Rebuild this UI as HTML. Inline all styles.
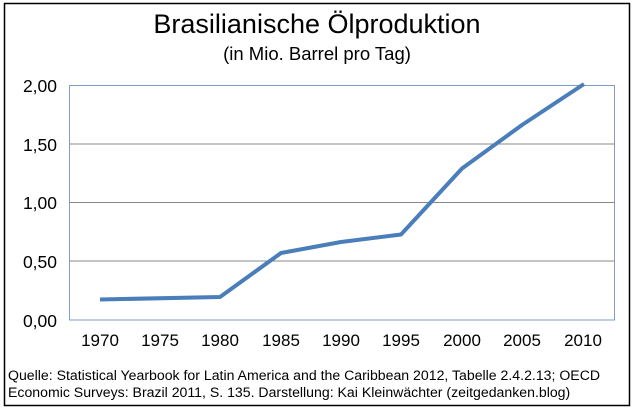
<!DOCTYPE html>
<html><head><meta charset="utf-8"><style>
html,body{margin:0;padding:0;background:#fff;}
</style></head><body>
<svg width="634" height="413" xmlns="http://www.w3.org/2000/svg" font-family="Liberation Sans, Arial, sans-serif">
<rect x="4.5" y="3.5" width="625" height="402" fill="#fff" stroke="#000" stroke-width="1.5"/>
<text x="317" y="33" font-size="27" text-anchor="middle">Brasilianische Ölproduktion</text>
<text x="317" y="60" font-size="18.5" text-anchor="middle">(in Mio. Barrel pro Tag)</text>
<g stroke="#888" stroke-width="1">
<line x1="69" y1="144" x2="615" y2="144"/>
<line x1="69" y1="202.5" x2="615" y2="202.5"/>
<line x1="69" y1="261" x2="615" y2="261"/>
</g>
<rect x="69.5" y="85.5" width="545" height="234.5" fill="none" stroke="#7f9ccb" stroke-width="1"/>
<g font-size="17.5" text-anchor="end">
<text x="57" y="92">2,00</text>
<text x="57" y="151">1,50</text>
<text x="57" y="209">1,00</text>
<text x="57" y="268">0,50</text>
<text x="57" y="327">0,00</text>
</g>
<g font-size="17" text-anchor="middle">
<text x="100" y="346">1970</text>
<text x="160" y="346">1975</text>
<text x="220" y="346">1980</text>
<text x="281" y="346">1985</text>
<text x="341" y="346">1990</text>
<text x="401" y="346">1995</text>
<text x="462" y="346">2000</text>
<text x="522" y="346">2005</text>
<text x="583" y="346">2010</text>
</g>
<polyline points="100,299.5 220,297 281,253 341,242 401,234.5 462,168.5 522,125 584,84" fill="none" stroke="#4a7ebb" stroke-width="4" stroke-linejoin="round"/>
<text x="8" y="380" font-size="14.1">Quelle: Statistical Yearbook for Latin America and the Caribbean 2012, Tabelle 2.4.2.13; OECD</text>
<text x="8" y="397" font-size="14.1">Economic Surveys: Brazil 2011, S. 135. Darstellung: Kai Kleinwächter (zeitgedanken.blog)</text>
</svg>
</body></html>
